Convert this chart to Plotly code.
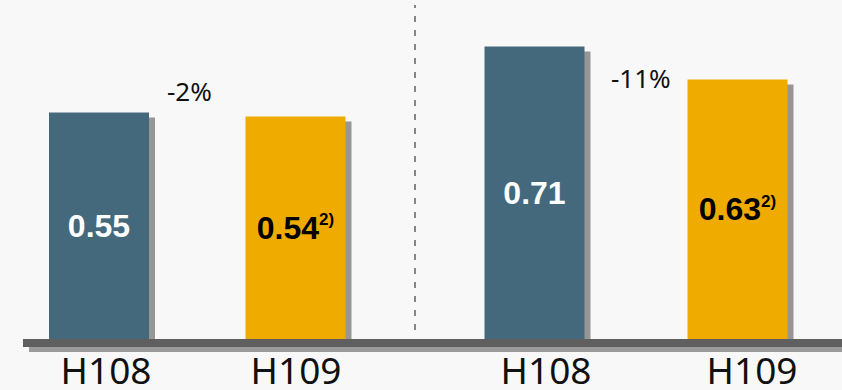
import plotly.graph_objects as go

# ---- data ----
categories = ["H108", "H109", "H108", "H109"]
values = [0.55, 0.54, 0.71, 0.63]
value_labels = ["0.55", "0.54<sup>2)</sup>", "0.71", "0.63<sup>2)</sup>"]
changes = ["-2%", "-11%"]
change_levels = [0.602, 0.633]

# ---- layout constants ----
x_pos = [99, 295.5, 534.5, 737.5]
tick_pos = [106, 296, 546, 752]
change_x = [189, 641]
bar_colors = ["#44687c", "#f0ab00", "#44687c", "#f0ab00"]
label_colors = ["white", "black", "white", "black"]
BG = "#f8f8f8"
W, H = 842, 390
PX_PER_UNIT = 412.0
PLOT_H = 339
shadow_dx = 6
shadow_dy = 5 / PX_PER_UNIT

fig = go.Figure()

# shadows
fig.add_trace(go.Bar(
    x=[p + shadow_dx for p in x_pos], y=values, base=[-shadow_dy] * len(values),
    width=100, marker=dict(color="#969696", line=dict(width=0)),
    hoverinfo="skip", showlegend=False,
))
# bars
fig.add_trace(go.Bar(
    x=x_pos, y=values, width=100,
    marker=dict(color=bar_colors, line=dict(width=0)),
    text=[t.replace("<sup>", "<sup><span style='font-size:17px'>").replace("</sup>", "</span></sup>")
          for t in value_labels],
    textposition="inside", insidetextanchor="middle",
    textangle=0,
    insidetextfont=dict(family="Liberation Sans, Arial, sans-serif", size=32, color=label_colors),
    texttemplate="<b>%{text}</b>",
    hoverinfo="skip", showlegend=False,
))

for txt, xc, yc in zip(changes, change_x, change_levels):
    fig.add_annotation(x=xc, y=yc, text=txt, showarrow=False,
                       font=dict(family="Noto Sans, sans-serif", size=26, color="#111111"),
                       xanchor="center", yanchor="middle")

# dashed divider
fig.add_shape(type="line", xref="x", yref="paper", x0=415, x1=415,
              y0=(PLOT_H - 330) / PLOT_H, y1=(PLOT_H - 5) / PLOT_H,
              line=dict(color="#858585", width=2, dash="6px,8px"), layer="below")

# baseline (shadow + main)
fig.add_shape(type="rect", xref="x", yref="paper", x0=29, x1=842,
              y0=-13 / PLOT_H, y1=-7 / PLOT_H,
              fillcolor="#9b9b9b", line=dict(width=0), layer="above")
fig.add_shape(type="rect", xref="x", yref="paper", x0=23, x1=842,
              y0=-8 / PLOT_H, y1=0,
              fillcolor="#5f5f5f", line=dict(width=0), layer="above")

fig.update_layout(
    width=W, height=H,
    margin=dict(l=0, r=0, t=0, b=H - PLOT_H, pad=0, autoexpand=False),
    paper_bgcolor=BG, plot_bgcolor=BG,
    barmode="overlay",
    xaxis=dict(range=[0, W], tickvals=tick_pos, ticktext=categories,
               showgrid=False, zeroline=False, showline=False, ticks="",
               tickfont=dict(family="Noto Sans, sans-serif", size=37, color="#111111"),
               ticklabelstandoff=7, automargin=False, fixedrange=True),
    yaxis=dict(range=[0, PLOT_H / PX_PER_UNIT], visible=False, automargin=False, fixedrange=True),
)

fig.write_html("out.html")
